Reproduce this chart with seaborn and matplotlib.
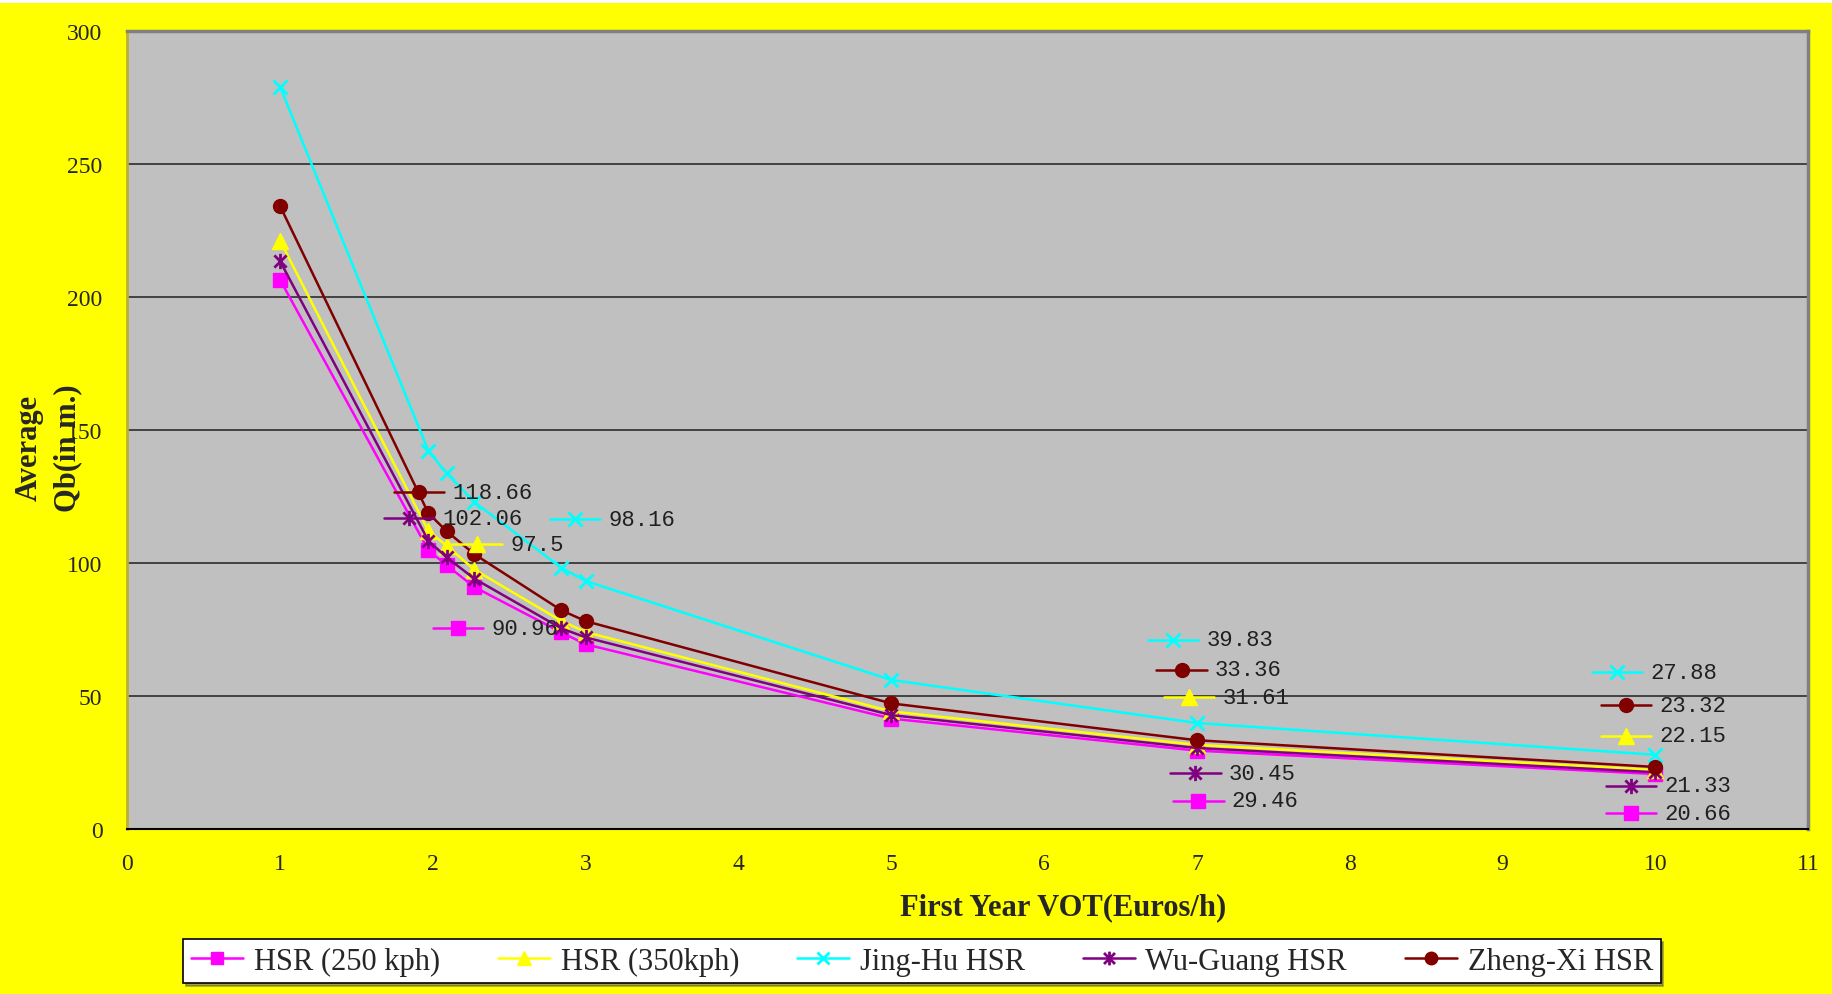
import numpy as np
import pandas as pd
import matplotlib
matplotlib.use("Agg")
import matplotlib.pyplot as plt
from matplotlib.lines import Line2D
from matplotlib.path import Path
from matplotlib.patches import Rectangle
import seaborn as sns

# ---- data -------------------------------------------------------------
vot = [1, 1.97, 2.09, 2.27, 2.84, 3, 5, 7, 10]

hsr_250 = [206.3, 104.8, 99.1, 90.96, 73.9, 69.4, 41.5, 29.46, 20.66]
hsr_350 = [221.0, 112.0, 106.4, 97.5, 78.2, 74.0, 44.2, 31.61, 22.15]
jing_hu = [278.8, 142.1, 133.7, 122.9, 98.16, 93.2, 56.0, 39.83, 27.88]
wu_guang = [213.3, 108.3, 102.06, 94.1, 75.4, 72.0, 42.8, 30.45, 21.33]
zheng_xi = [234.0, 118.66, 111.9, 103.3, 82.2, 78.1, 47.2, 33.36, 23.32]

series_names = ["HSR (250 kph)", "HSR (350kph)", "Jing-Hu HSR",
                "Wu-Guang HSR", "Zheng-Xi HSR"]
series_values = [hsr_250, hsr_350, jing_hu, wu_guang, zheng_xi]

x_ticks = list(range(0, 12))
y_ticks = list(range(0, 301, 50))

# ---- styles -----------------------------------------------------------
star = Path([(0, -1), (0, 1), (-0.8, -0.8), (0.8, 0.8), (-0.8, 0.8), (0.8, -0.8)],
            [Path.MOVETO, Path.LINETO, Path.MOVETO, Path.LINETO,
             Path.MOVETO, Path.LINETO])
styles = {
    "HSR (250 kph)": dict(color="#FF00FF", marker="s", ms=10, mew=1),
    "HSR (350kph)": dict(color="#FFFF00", marker="^", ms=11, mew=1),
    "Jing-Hu HSR": dict(color="#00FFFF", marker="x", ms=10, mew=2),
    "Wu-Guang HSR": dict(color="#800080", marker=star, ms=11, mew=2),
    "Zheng-Xi HSR": dict(color="#800000", marker="o", ms=10, mew=1),
}

# data labels: (series, point index, key position in data units)
labels = [
    ("Zheng-Xi HSR", 1, (1.908, 126.5)),
    ("Wu-Guang HSR", 2, (1.843, 116.8)),
    ("HSR (350kph)", 3, (2.288, 107.0)),
    ("Jing-Hu HSR", 4, (2.93, 116.4)),
    ("HSR (250 kph)", 3, (2.163, 75.5)),
    ("Jing-Hu HSR", 7, (6.845, 71.1)),
    ("Zheng-Xi HSR", 7, (6.90, 59.8)),
    ("HSR (350kph)", 7, (6.95, 49.6)),
    ("Wu-Guang HSR", 7, (6.99, 21.0)),
    ("HSR (250 kph)", 7, (7.01, 10.6)),
    ("Jing-Hu HSR", 8, (9.75, 58.9)),
    ("Zheng-Xi HSR", 8, (9.81, 46.6)),
    ("HSR (350kph)", 8, (9.81, 35.0)),
    ("Wu-Guang HSR", 8, (9.84, 16.3)),
    ("HSR (250 kph)", 8, (9.84, 6.0)),
]

serif = "Liberation Serif"
mono = "Liberation Mono"

# ---- figure -----------------------------------------------------------
sns.set_style("white")
plt.rcParams["font.family"] = [serif, "DejaVu Sans"]

fig = plt.figure(figsize=(18.33, 9.95), dpi=100, facecolor="#FFFF00")
fig.patches.append(Rectangle((0, 1 - 4 / 995), 1, 4 / 995, transform=fig.transFigure,
                             facecolor="white", edgecolor="none", zorder=0))
ax = fig.add_axes([0.0695, 0.1658, 0.9169, 0.8024])
ax.set_facecolor("#C0C0C0")

for y in y_ticks[1:-1]:
    ax.axhline(y, color="#202020", lw=1.1, zorder=1)

for name, vals in zip(series_names, series_values):
    st = styles[name]
    sns.lineplot(x=vot, y=vals, ax=ax, color=st["color"], lw=1.8,
                 marker=st["marker"], markersize=st["ms"],
                 markeredgecolor=st["color"], markerfacecolor=st["color"],
                 markeredgewidth=st["mew"], legend=False, zorder=3)

# data labels with a small series key in front
half = 0.165
for name, idx, (kx, ky) in labels:
    st = styles[name]
    vals = series_values[series_names.index(name)]
    ax.plot([kx - half, kx + half], [ky, ky], color=st["color"], lw=1.8, zorder=4)
    ax.plot([kx], [ky], linestyle="none", marker=st["marker"], markersize=st["ms"],
            color=st["color"], markeredgecolor=st["color"],
            markeredgewidth=st["mew"], zorder=4)
    ax.annotate(f"{vals[idx]:g}", xy=(kx, ky), xytext=(24, 0),
                textcoords="offset points", ha="left", va="center",
                fontsize=16, family=mono, color="#202020", zorder=5)

ax.set_xlim(0, 11)
ax.set_ylim(0, 300)
ax.set_xticks(x_ticks)
ax.set_yticks(y_ticks)
ax.tick_params(axis="x", direction="inout", length=14, width=1.2, color="black",
               labelsize=17, pad=10)
ax.tick_params(axis="y", direction="in", length=8, width=1.5, color="#B8B030",
               labelsize=17, pad=18)
for lab in ax.get_xticklabels() + ax.get_yticklabels():
    lab.set_family(serif)

for side in ("top", "right"):
    ax.spines[side].set_color("#808080")
    ax.spines[side].set_linewidth(2.5)
    ax.spines[side].set_visible(True)
ax.spines["left"].set_color("#B8B030")
ax.spines["left"].set_linewidth(2)
ax.spines["left"].set_visible(True)
ax.spines["bottom"].set_color("black")
ax.spines["bottom"].set_linewidth(1.5)
ax.spines["bottom"].set_visible(True)

ax.set_xlabel("")
ax.set_ylabel("")
fig.text(0.580, 0.088, "First Year VOT(Euros/h)", ha="center", va="center",
         fontsize=22, fontweight="bold", family=serif)
ax.text(-0.047, 0.478, "Average\nQb(in m.)", transform=ax.transAxes,
        rotation=90, ha="center", va="center", fontsize=22,
        fontweight="bold", family=serif, linespacing=1.4, zorder=6)

handles = [Line2D([0], [0], color=styles[n]["color"], lw=1.8,
                  marker=styles[n]["marker"], markersize=styles[n]["ms"] * 0.9,
                  markeredgecolor=styles[n]["color"],
                  markeredgewidth=styles[n]["mew"]) for n in series_names]
leg = fig.legend(handles, series_names, loc="center",
                 bbox_to_anchor=(0.503, 0.033), ncol=5, frameon=True,
                 fancybox=False, shadow=True, edgecolor="black",
                 facecolor="white", framealpha=1, handlelength=1.7,
                 handletextpad=0.35, columnspacing=1.9, borderpad=0.25,
                 prop={"family": serif, "size": 22})
leg.get_frame().set_linewidth(1.2)

fig.savefig("out.png", dpi=100, facecolor=fig.get_facecolor())
